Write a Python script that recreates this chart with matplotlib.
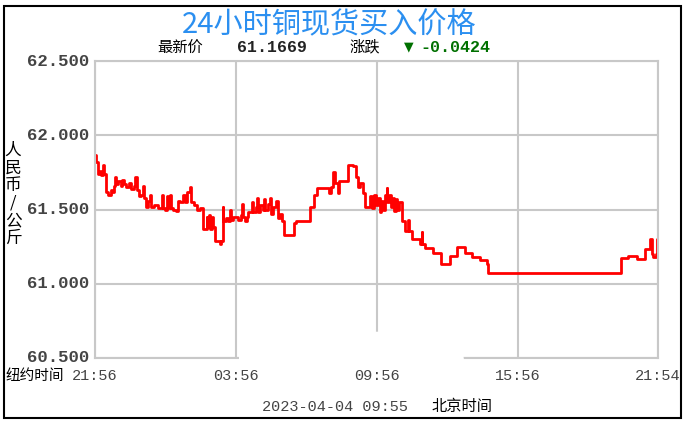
# 24小时铜现货买入价格 - step line chart
import numpy as np
import matplotlib
matplotlib.use('Agg')
import matplotlib.pyplot as plt
from matplotlib.patches import Rectangle, Polygon

plt.rcParams['font.family'] = ['Noto Sans CJK SC', 'DejaVu Sans']

# data: (minutes since 21:56 NY time, price)
night = [(0, 61.87), (3, 61.82), (7, 61.74), (12, 61.76), (16, 61.73), (21, 61.80),
         (24, 61.74), (29, 61.62), (34, 61.60), (40, 61.63), (44, 61.62), (48, 61.66),
         (51, 61.72), (54, 61.67), (60, 61.69), (66, 61.66), (70, 61.70), (73, 61.67),
         (80, 61.65), (86, 61.68), (92, 61.64), (100, 61.66), (102, 61.72), (106, 61.63),
         (112, 61.59), (118, 61.60), (123, 61.66), (126, 61.58), (130, 61.52), (136, 61.56),
         (140, 61.60), (143, 61.52), (150, 61.53), (160, 61.51), (170, 61.60), (173, 61.51),
         (180, 61.50), (183, 61.59), (186, 61.51), (191, 61.60), (194, 61.51), (200, 61.50),
         (206, 61.49), (212, 61.56), (218, 61.55), (224, 61.60), (230, 61.55), (236, 61.62),
         (242, 61.65), (245, 61.55), (252, 61.53), (260, 61.50), (268, 61.51), (275, 61.37),
         (285, 61.45), (287, 61.38), (292, 61.46), (294, 61.37), (300, 61.45), (302, 61.38),
         (306, 61.29), (318, 61.27), (322, 61.29), (326, 61.52), (328, 61.42), (334, 61.44),
         (340, 61.42), (345, 61.50), (347, 61.43), (352, 61.45)]
morning = [(365, 61.43), (372, 61.46), (376, 61.54), (378, 61.45), (382, 61.42),
           (388, 61.45), (392, 61.48), (400, 61.55), (404, 61.48), (410, 61.52),
           (415, 61.58), (417, 61.48), (422, 61.53), (428, 61.50), (432, 61.57),
           (435, 61.50), (442, 61.54), (446, 61.58), (449, 61.47), (455, 61.52),
           (462, 61.56), (468, 61.44), (472, 61.47), (478, 61.42), (483, 61.33),
           (508, 61.41), (513, 61.42), (549, 61.515), (559, 61.60), (566, 61.645),
           (597, 61.61), (602, 61.65), (607, 61.755), (612, 61.68), (620, 61.61),
           (622, 61.69), (645, 61.80), (660, 61.79), (666, 61.72), (672, 61.65),
           (678, 61.68), (684, 61.61), (690, 61.515), (702, 61.59), (708, 61.51),
           (712, 61.60), (718, 61.53), (722, 61.58), (727, 61.48), (731, 61.56),
           (735, 61.50), (740, 61.60), (745, 61.645), (747, 61.55), (752, 61.60),
           (756, 61.52), (760, 61.58), (764, 61.49), (768, 61.57), (772, 61.50),
           (776, 61.55), (783, 61.425), (792, 61.355), (799, 61.43), (801, 61.355),
           (809, 61.30)]
afternoon = [(830, 61.27), (834, 61.35), (836, 61.27), (843, 61.24), (864, 61.21),
             (883, 61.133), (907, 61.19), (925, 61.25), (945, 61.21), (962, 61.178),
             (983, 61.16), (1000, 61.133), (1005, 61.073), (1343, 61.171), (1362, 61.19),
             (1384, 61.167), (1405, 61.233), (1418, 61.30), (1422, 61.20), (1426, 61.18),
             (1432, 61.20), (1435, 61.30), (1438, 61.30)]

x_ticks = [0, 360, 720, 1080, 1438]
x_labels = ['21:56', '03:56', '09:56', '15:56', '21:54']
y_ticks = [60.5, 61.0, 61.5, 62.0, 62.5]
y_labels = ['60.500', '61.000', '61.500', '62.000', '62.500']

pts = night + morning + afternoon
minutes = [p[0] for p in pts]
prices = [p[1] for p in pts]

W, H = 688, 429
fig = plt.figure(figsize=(W / 100, H / 100), dpi=100)
fig.patch.set_facecolor('white')


def fx(px):
    return px / W


def fy(py):
    return 1 - py / H


# outer black frame
fig.patches.append(Rectangle((fx(4), fy(418)), fx(681) - fx(4), fy(6) - fy(418),
                             transform=fig.transFigure, fill=False,
                             edgecolor='black', linewidth=1.5))

ax = fig.add_axes([fx(95), fy(358), fx(658) - fx(95), fy(61) - fy(358)])
ax.step(minutes, prices, where='post', color='#ff0000', linewidth=2)
ax.set_xlim(0, 1438)
ax.set_ylim(60.5, 62.5)
ax.set_xticks(x_ticks)
ax.set_yticks(y_ticks)
ax.set_xticklabels([])
ax.set_yticklabels([])
ax.tick_params(length=0)
ax.grid(True, color='#c8c8c8', linewidth=1.5)
for s in ax.spines.values():
    s.set_color('#c8c8c8')
    s.set_linewidth(1.5)

# white smudge over the bottom of the grid (as in the source image)
smudge = [(239, 360), (239, 346), (300, 338), (360, 332), (420, 331),
          (462, 346), (464, 360)]
fig.patches.append(Polygon([(fx(a), fy(b)) for a, b in smudge], closed=True,
                           transform=fig.transFigure, facecolor='white',
                           edgecolor='none', zorder=5))

# tick labels
for v, lab in zip(y_ticks, y_labels):
    py = 358 - (v - 60.5) / 2.0 * 297
    fig.text(fx(89), fy(py), lab, ha='right', va='center',
             family='Liberation Mono', fontweight='bold', fontsize=12.5,
             color='#444444')
for t, lab in zip(x_ticks, x_labels):
    px = 95 + t / 1438 * 563
    fig.text(fx(px), fy(376), lab, ha='center', va='center',
             family='Liberation Mono', fontsize=11, color='#444444')

fig.text(fx(6), fy(376), '纽约时间', ha='left', va='center', fontsize=10.5, color='black')

# y label, stacked characters
for i, ch in enumerate('人民币/公斤'):
    fig.text(fx(13), fy(150 + i * 17.7), ch, ha='center', va='center',
             fontsize=12, color='black')

# title and header
fig.text(fx(329), fy(25), '24小时铜现货买入价格', ha='center', va='center',
         fontsize=21, color='#2b8ff0')
fig.text(fx(157), fy(47), '最新价', ha='left', va='center', fontsize=11, color='black')
fig.text(fx(237), fy(47), '61.1669', ha='left', va='center',
         family='Liberation Mono', fontweight='bold', fontsize=12, color='#222222')
fig.text(fx(349), fy(47), '涨跌', ha='left', va='center', fontsize=11, color='black')
fig.text(fx(409), fy(47), '▼', ha='center', va='center',
         family='DejaVu Sans', fontsize=9, color='#007000')
fig.text(fx(420), fy(47), '-0.0424', ha='left', va='center',
         family='Liberation Mono', fontweight='bold', fontsize=12, color='#007000')

# footer
fig.text(fx(262), fy(407), '2023-04-04 09:55', ha='left', va='center',
         family='Liberation Mono', fontsize=11, color='#444444')
fig.text(fx(432), fy(407), '北京时间', ha='left', va='center', fontsize=11, color='black')

fig.savefig('out.png', dpi=100)
